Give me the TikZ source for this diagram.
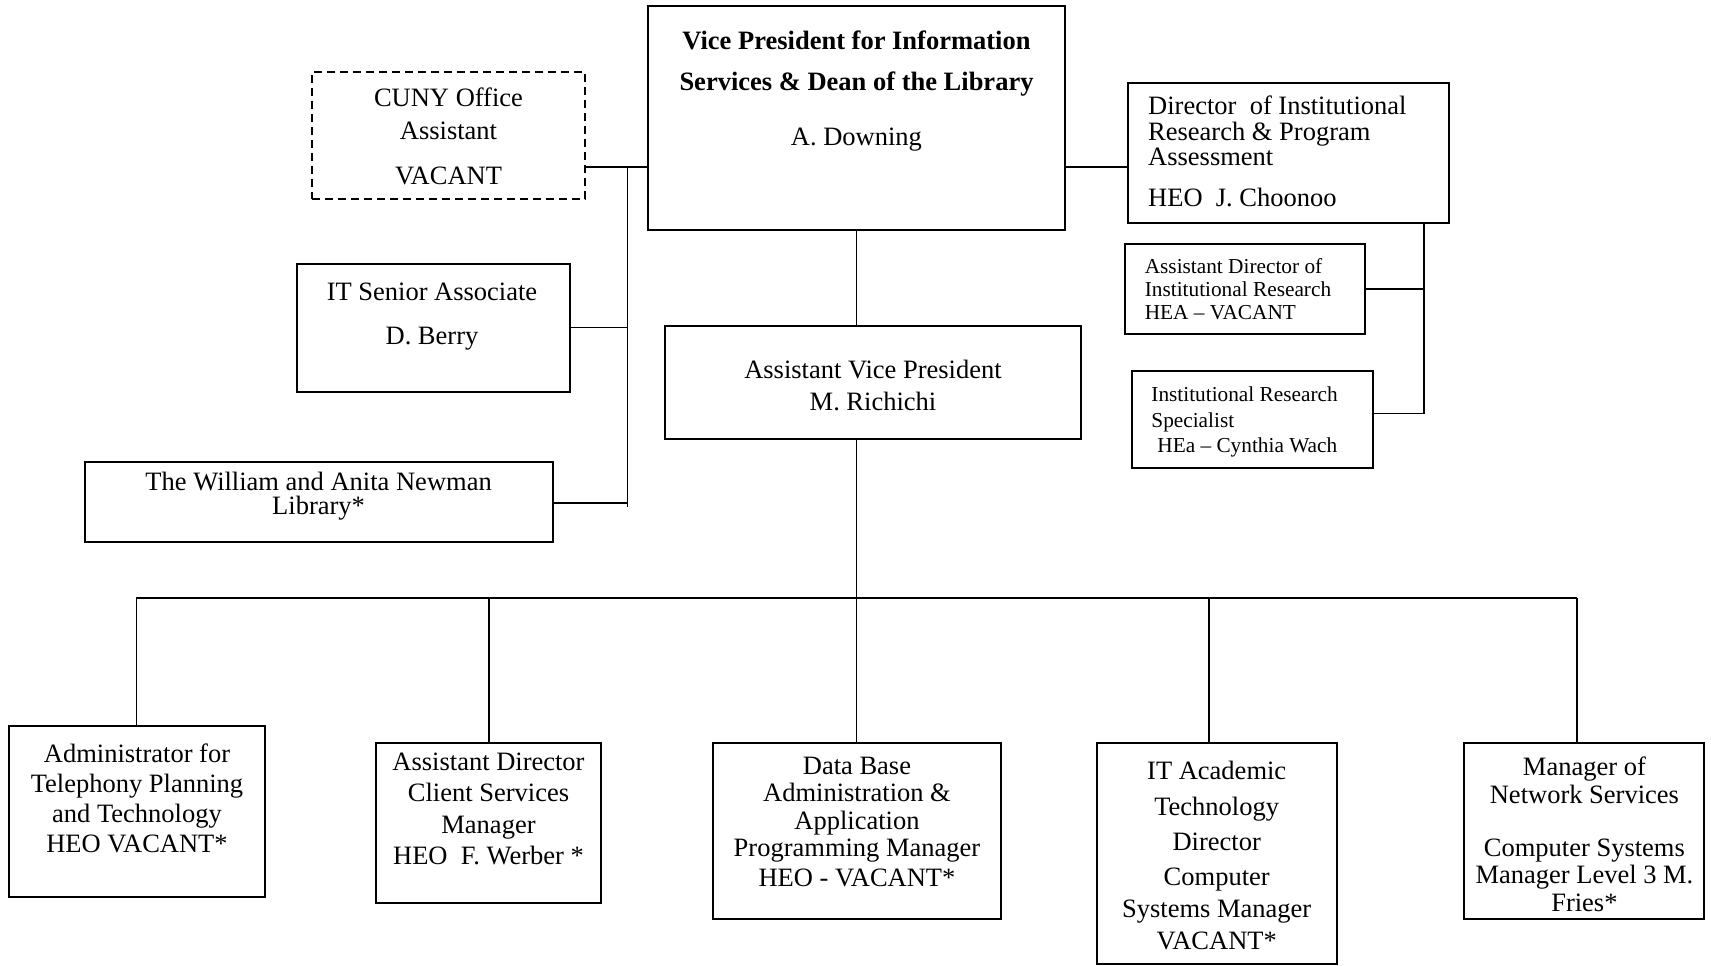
\documentclass[tikz,border=0pt]{standalone}
\usepackage{fontspec}
\setmainfont{Liberation Serif}
\begin{document}
\begin{tikzpicture}[x=1pt,y=-1pt,
  box/.style={draw, rectangle, line width=2pt, inner sep=0pt},
  dbox/.style={box, line width=1.6pt, dash pattern=on 8pt off 5pt},
  link/.style={line width=1.6pt},
  txt/.style={inner sep=0pt, align=center, anchor=north},
  ltxt/.style={inner sep=0pt, align=left, anchor=north west}]
\path[fill=white, use as bounding box] (0,0) rectangle (1711,966);

% boxes
\node[box, minimum width=417pt, minimum height=223.5pt] (vp) at (856.5,118.25) {};
\node[dbox, minimum width=273pt, minimum height=127pt] (cuny) at (448.5,135.5) {};
\node[box, minimum width=273pt, minimum height=128pt] (it) at (433.5,328) {};
\node[box, minimum width=468pt, minimum height=80pt] (nw) at (319,502) {};
\node[box, minimum width=321pt, minimum height=140pt] (dir) at (1288.5,153) {};
\node[box, minimum width=240pt, minimum height=90pt] (adir) at (1245,289) {};
\node[box, minimum width=241pt, minimum height=97pt] (irs) at (1252.5,419.5) {};
\node[box, minimum width=416pt, minimum height=113pt] (avp) at (873,382.5) {};
\node[box, minimum width=256pt, minimum height=171pt] (b1) at (137,811.5) {};
\node[box, minimum width=225pt, minimum height=160pt] (b2) at (488.5,822.5) {};
\node[box, minimum width=288pt, minimum height=176pt] (b3) at (857,830.5) {};
\node[box, minimum width=240pt, minimum height=221pt] (b4) at (1217,853.5) {};
\node[box, minimum width=240pt, minimum height=176pt] (b5) at (1584,830.5) {};

% texts
\node[txt, font=\fontsize{26.5}{30.5}\selectfont] (vpT) at (856.5,30.3)
  {\textbf{Vice President for Information}\\[10.9pt]\textbf{Services \& Dean of the Library}\\[24.1pt]A. Downing};
\node[txt, font=\fontsize{26.5}{30.5}\selectfont] (cunyT) at (448.5,88)
  {CUNY Office\\[2.3pt]Assistant\\[14.2pt]VACANT};
\node[txt, font=\fontsize{26.5}{30.5}\selectfont] (itT) at (432,282.4)
  {IT Senior Associate\\[14.2pt]D. Berry};
\node[txt, font=\fontsize{26.5}{24}\selectfont] (nwT) at (318.6,472)
  {The William and Anita Newman\\Library*};
\node[ltxt, font=\fontsize{26.5}{25.5}\selectfont] (dirT) at (1148,95.8)
  {Director\ \ of Institutional\\Research \& Program\\Assessment\\[15pt]HEO\ \ J. Choonoo};
\node[ltxt, font=\fontsize{21.3}{22.9}\selectfont] (adirT) at (1144.6,258)
  {Assistant Director of\\Institutional Research\\HEA – VACANT};
\node[ltxt, font=\fontsize{21.3}{25.6}\selectfont] (irsT) at (1151.2,386.6)
  {Institutional Research\\Specialist\\\hspace*{6pt}HEa – Cynthia Wach};
\node[txt, font=\fontsize{26.5}{31.7}\selectfont] (avpT) at (873,359.8)
  {Assistant Vice President\\M. Richichi};
\node[txt, font=\fontsize{26.5}{29.8}\selectfont] (b1T) at (137,744)
  {Administrator for\\Telephony Planning\\and Technology\\HEO VACANT*};
\node[txt, font=\fontsize{26.5}{31.3}\selectfont] (b2T) at (488.5,752.7)
  {Assistant Director\\Client Services\\Manager\\HEO\ \ F. Werber *};
\node[txt, font=\fontsize{26.5}{27.3}\selectfont] (b3T) at (857,757)
  {Data Base\\Administration \&\\Application\\Programming Manager\\[3.2pt]HEO - VACANT*};
\node[txt, font=\fontsize{26.5}{35.3}\selectfont] (b4T) at (1216.7,761.4)
  {IT Academic\\Technology\\Director\\Computer\\[-3.6pt]Systems Manager\\[-3.6pt]VACANT*};
\node[txt, font=\fontsize{26.5}{27.3}\selectfont] (b5T) at (1584.4,757)
  {Manager of\\Network Services\\[26.2pt]Computer Systems\\Manager Level 3 M.\\Fries*};

% junction coordinates
\coordinate (j1) at (627.4,167);
\coordinate (j2) at (627.4,327.4);
\coordinate (j3) at (627.4,503);
\coordinate (j4) at (627.4,507);
\coordinate (k1) at (1424,289.2);
\coordinate (k2) at (1424,413.6);
\coordinate (d1) at (136.4,598);
\coordinate (d2) at (488.9,598);
\coordinate (d3) at (856.5,598);
\coordinate (d4) at (1209,598);
\coordinate (d5) at (1576.8,598);

% connectors left
\draw[link] (cuny.east |- j1) -- (vp.west |- j1);
\draw[link] (j1) -- (j4);
\draw[link] (it.east |- j2) -- (j2);
\draw[link] (nw.east |- j3) -- (j3);
% connectors right
\draw[link] (vp.east |- j1) -- (dir.west |- j1);
\draw[link] (dir.south -| k1) -- (k2);
\draw[link] (adir.east |- k1) -- (k1);
\draw[link] (irs.east |- k2) -- (k2);
% VP to AVP and bus
\draw[link] (vp.south) -- (vp.south |- avp.north);
\draw[link] (avp.south -| d3) -- (d3);
\draw[link] (d1) -- (d5);
\draw[link] (d1) -- (d1 |- b1.north);
\draw[link] (d2) -- (d2 |- b2.north);
\draw[link] (d3) -- (d3 |- b3.north);
\draw[link] (d4) -- (d4 |- b4.north);
\draw[link] (d5) -- (d5 |- b5.north);
\end{tikzpicture}
\end{document}
